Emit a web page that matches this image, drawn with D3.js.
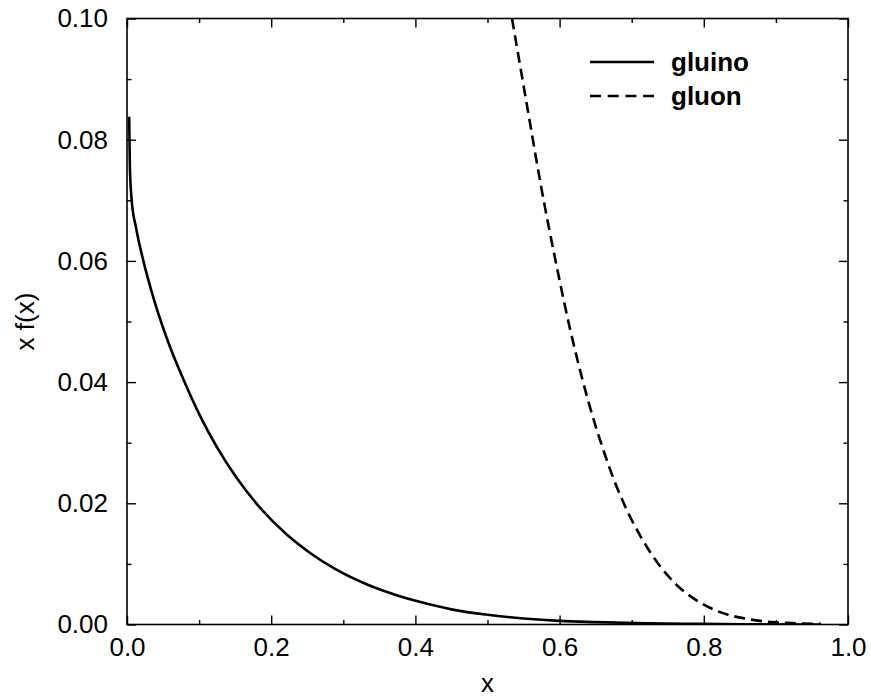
<!DOCTYPE html>
<html>
<head>
<meta charset="utf-8">
<script src="https://d3js.org/d3.v7.min.js"></script>
<style>
  html, body { margin: 0; padding: 0; background: #fff; }
  svg { display: block; }
  text { font-family: "Liberation Sans", Arial, sans-serif; fill: #000; }
</style>
</head>
<body>
<script>
// ---- data ----
const gluinoX = [0.003, 0.004, 0.0065, 0.0125, 0.0227, 0.039, 0.06, 0.078, 0.101, 0.1245, 0.152, 0.185, 0.222, 0.254, 0.291, 0.333, 0.375, 0.407, 0.45, 0.5, 0.55, 0.6, 0.65, 0.72, 0.8, 0.88, 0.96];
const gluinoY = [0.0838, 0.0755, 0.0700, 0.0655, 0.0600, 0.0530, 0.0457, 0.0405, 0.0345, 0.0293, 0.0242, 0.0192, 0.0148, 0.0118, 0.0090, 0.0066, 0.0048, 0.0037, 0.0025, 0.0016, 0.0010, 0.0006, 0.0004, 0.0002, 0.0001, 0.00003, 0.0];
const gluonX = [0.530, 0.534, 0.555, 0.574, 0.597, 0.615, 0.6315, 0.648, 0.6615, 0.675, 0.694, 0.7125, 0.7357, 0.7635, 0.791, 0.8236, 0.8607, 0.893, 0.93, 0.9625];
const gluonY = [0.1028, 0.1000, 0.0855, 0.0725, 0.0585, 0.0485, 0.0405, 0.0335, 0.0285, 0.0240, 0.0187, 0.0145, 0.0102, 0.0064, 0.0039, 0.0020, 0.0009, 0.0004, 0.0002, 0.0001];
const xTicks = [0.0, 0.2, 0.4, 0.6, 0.8, 1.0];
const xMinorTicks = [0.1, 0.3, 0.5, 0.7, 0.9];
const yTicks = [0.00, 0.02, 0.04, 0.06, 0.08, 0.10];
const yMinorTicks = [0.01, 0.03, 0.05, 0.07, 0.09];
const seriesNames = ["gluino", "gluon"];
const xTitle = "x";
const yTitle = "x f(x)";

// ---- layout ----
const W = 871, H = 698;
const L = 127, R = 848, T = 18.5, B = 624.5;

const svg = d3.select("body").append("svg").attr("width", W).attr("height", H);

const x = d3.scaleLinear().domain([0, 1]).range([L, R]);
const y = d3.scaleLinear().domain([0, 0.1]).range([B, T]);

svg.append("defs").append("clipPath").attr("id", "clip")
  .append("rect").attr("x", L).attr("y", T).attr("width", R - L).attr("height", B - T);

const fmtX = d3.format(".1f"), fmtY = d3.format(".2f");
const FS = 26;

// axes: ticks inward on all 4 sides
function addAxis(gen, tr, ticks, len, fmt, showLabels) {
  const g = svg.append("g").attr("transform", tr)
    .call(gen.tickValues(ticks).tickSize(-len).tickSizeOuter(0).tickFormat(showLabels ? fmt : () => ""));
  g.select(".domain").remove();
  g.selectAll(".tick line").attr("stroke", "#000").attr("stroke-width", 1.4);
  g.selectAll(".tick text").attr("font-size", FS).attr("font-family", "Liberation Sans, Arial, sans-serif");
  return g;
}
// bottom
const gb = addAxis(d3.axisBottom(x), `translate(0,${B})`, xTicks, 9, fmtX, true);
gb.selectAll(".tick text").attr("y", 13);
addAxis(d3.axisBottom(x), `translate(0,${B})`, xMinorTicks, 4.5, fmtX, false);
// top
addAxis(d3.axisTop(x), `translate(0,${T})`, xTicks, 9, fmtX, false);
addAxis(d3.axisTop(x), `translate(0,${T})`, xMinorTicks, 4.5, fmtX, false);
// left
const gl = addAxis(d3.axisLeft(y), `translate(${L},0)`, yTicks, 9, fmtY, true);
gl.selectAll(".tick text").attr("x", -19);
addAxis(d3.axisLeft(y), `translate(${L},0)`, yMinorTicks, 4.5, fmtY, false);
// right
addAxis(d3.axisRight(y), `translate(${R},0)`, yTicks, 9, fmtY, false);
addAxis(d3.axisRight(y), `translate(${R},0)`, yMinorTicks, 4.5, fmtY, false);

// frame
svg.append("rect").attr("x", L).attr("y", T).attr("width", R - L).attr("height", B - T)
  .attr("fill", "none").attr("stroke", "#000").attr("stroke-width", 1.6);

// curves
const line = d3.line().x(d => x(d[0])).y(d => y(d[1])).curve(d3.curveMonotoneX);
const gluino = gluinoX.map((v, i) => [v, gluinoY[i]]);
const gluon = gluonX.map((v, i) => [v, gluonY[i]]);

const plot = svg.append("g").attr("clip-path", "url(#clip)");
plot.append("path").attr("d", line(gluino)).attr("fill", "none")
  .attr("stroke", "#000").attr("stroke-width", 2.6);
plot.append("path").attr("d", line(gluon)).attr("fill", "none")
  .attr("stroke", "#000").attr("stroke-width", 2.6).attr("stroke-dasharray", "11,6");

// legend
const leg = svg.append("g");
const legY = [62, 96];
const dashes = [null, "11,6.7"];
seriesNames.forEach((name, i) => {
  leg.append("line").attr("x1", 590).attr("x2", 654).attr("y1", legY[i]).attr("y2", legY[i])
    .attr("stroke", "#000").attr("stroke-width", 2.6).attr("stroke-dasharray", dashes[i]);
  leg.append("text").attr("x", 671).attr("y", legY[i]).attr("dy", "0.35em")
    .attr("font-size", FS).attr("font-weight", "bold").text(name);
});

// axis titles
svg.append("text").attr("x", (L + R) / 2).attr("y", 692).attr("text-anchor", "middle")
  .attr("font-size", FS).text(xTitle);
svg.append("text").attr("transform", `translate(34,${(T + B) / 2}) rotate(-90)`)
  .attr("text-anchor", "middle").attr("font-size", FS).text(yTitle);
</script>
</body>
</html>
